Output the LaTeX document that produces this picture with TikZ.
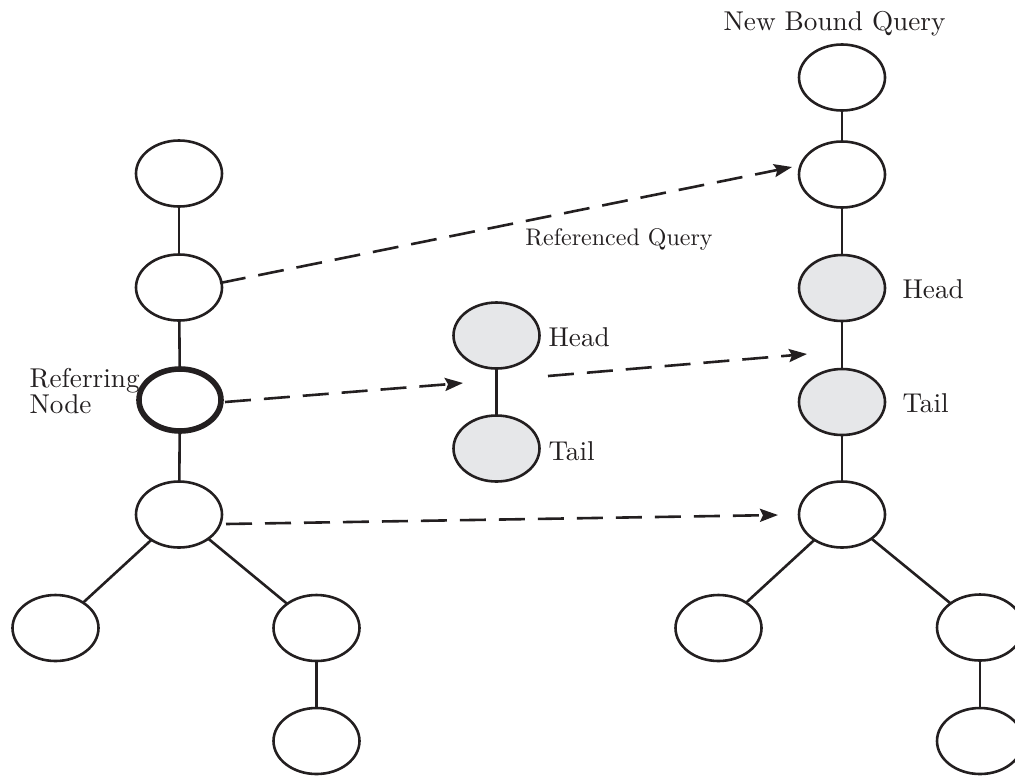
\documentclass[tikz,border=0pt]{standalone}
\usetikzlibrary{arrows.meta,calc,shapes.geometric}
\definecolor{ink}{HTML}{231F20}
\definecolor{shade}{HTML}{E6E7E9}
\begin{document}
\begin{tikzpicture}[x=0.5pt,y=-0.5pt,
  tnode/.style={ellipse,draw=ink,line width=1.3pt,minimum width=43pt,minimum height=33pt,inner sep=0pt,outer sep=0pt},
  grey/.style={tnode,fill=shade},
  refnode/.style={tnode,line width=2.8pt,minimum width=41pt,minimum height=31pt},
  link/.style={draw=ink,line width=1.3pt},
  ref/.style={draw=ink,line width=1.3pt,dash pattern=on 13pt off 6.5pt,-{Stealth[length=9pt,width=6.5pt,inset=1.5pt]}},
  text base/.style={inner sep=0pt,anchor=base west,font=\fontsize{10}{12}\selectfont,text=ink,transform shape},
  lbl/.style={text base,scale=1.36},
  small lbl/.style={text base,scale=1.2}
]
\useasboundingbox (0,0) rectangle (1015,777);
\clip (0,0) rectangle (1015,777);

% left tree (the query that holds the reference)
\node[tnode]   (L1) at (179,173.5) {};
\node[tnode]   (L2) at (179,287.5) {};
\node[refnode] (L3) at (180,400) {};
\node[tnode]   (L4) at (179,514.5) {};
\node[tnode]   (L5) at (55.5,628) {};
\node[tnode]   (L6) at (316.5,628) {};
\node[tnode]   (L7) at (316.5,741) {};

% referenced head/tail pair
\node[grey] (M1) at (496.5,335.5) {};
\node[grey] (M2) at (496.5,448.5) {};

% right tree (the new bound query)
\node[tnode] (R1) at (842,77.5) {};
\node[tnode] (R2) at (842,174.5) {};
\node[grey]  (R3) at (842,288) {};
\node[grey]  (R4) at (842,402) {};
\node[tnode] (R5) at (842,514.5) {};
\node[tnode] (R6) at (718.5,628) {};
\node[tnode] (R7) at (980,627.5) {};
\node[tnode] (R8) at (980,741) {};

% tree edges
\draw[link] (L1) -- (L2);
\draw[link] (L2) -- (L3);
\draw[link] (L3) -- (L4);
\draw[link] (L4) -- (L5);
\draw[link] (L4) -- (L6);
\draw[link] (L6) -- (L7);
\draw[link] (M1) -- (M2);
\draw[link] (R1) -- (R2);
\draw[link] (R2) -- (R3);
\draw[link] (R3) -- (R4);
\draw[link] (R4) -- (R5);
\draw[link] (R5) -- (R6);
\draw[link] (R5) -- (R7);
\draw[link] (R7) -- (R8);

% mapping arrows
\coordinate (Mmid) at ($(M1)!0.5!(M2)$);
\coordinate (Rmid) at ($(R3)!0.5!(R4)$);
\draw[ref] ($(L2.east)+(-2,-4.5)$) -- ($(R2.west)+(-7,-7.5)$);
\draw[ref] ($(L3.east)+(4,2)$) -- ($(Mmid)+(-33.5,-9)$);
\draw[ref] ($(Mmid)+(51.5,-16)$) -- ($(Rmid)+(-35,9)$);
\draw[ref] ($(L4.east)+(4,9.5)$) -- ($(R5.west)+(-21,0.5)$);

% labels
\node[lbl] (tNBQ) at (723,30) {New Bound Query};
\node[small lbl] (tRQ) at (525,245) {Referenced Query};
\node[lbl] (tRef)  at (29,387) {Referring};
\node[lbl] (tNode) at (29,413) {Node};
\node[lbl] (tMH) at (548,346) {Head};
\node[lbl] (tMT) at (548,460) {Tail};
\node[lbl] (tRH) at (902,298) {Head};
\node[lbl] (tRT) at (902,412) {Tail};
\end{tikzpicture}
\end{document}
